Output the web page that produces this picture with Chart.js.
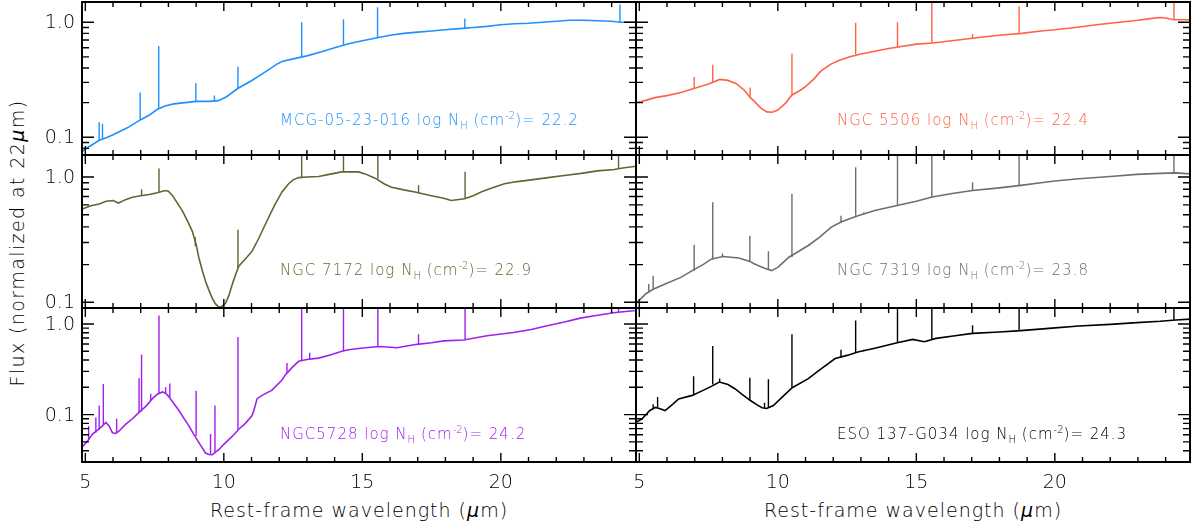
<!DOCTYPE html>
<html>
<head>
<meta charset="utf-8">
<script src="https://cdn.jsdelivr.net/npm/chart.js@4.4.0/dist/chart.umd.min.js"></script>
<style>
  body { margin: 0; background: #fff; }
  #wrap { position: relative; width: 1198px; height: 528px; overflow: hidden; font-family: "DejaVu Sans", sans-serif; font-weight: 200; }
  #wrap canvas { position: absolute; left: 0; top: 0; }
  .lab { position: absolute; font-size: 15px; letter-spacing: 1px; white-space: nowrap; line-height: 18px; }
  .lab sub { font-size: 10px; vertical-align: -4px; letter-spacing: 0; }
  .lab sup { font-size: 10px; vertical-align: 6px; letter-spacing: 0; }
  .xt { position: absolute; top: 499px; width: 554px; text-align: center; font-size: 19px; letter-spacing: 1px; line-height: 22px; }
  .yt { position: absolute; left: 17px; top: 243px; font-size: 19px; letter-spacing: 1.4px; white-space: nowrap; transform: translate(-50%, -50%) rotate(-90deg); }
</style>
</head>
<body>
<div id="wrap">
  <div class="xt" style="left:82px">Rest-frame wavelength (<i>μ</i>m)</div>
  <div class="xt" style="left:636px">Rest-frame wavelength (<i>μ</i>m)</div>
  <div class="yt">Flux (normalized at 22<i>μ</i>m)</div>
</div>
<script>
// panel order: top-left, top-right, mid-left, mid-right, bottom-left, bottom-right
const galaxyNames = ["MCG-05-23-016", "NGC 5506", "NGC 7172", "NGC 7319", "NGC5728", "ESO 137-G034"];
const logNH = [22.2, 22.4, 22.9, 23.8, 24.2, 24.3];

const xMin = 4.88, xMax = 24.88;
const xTickValues = [5, 6, 7, 8, 9, 10, 11, 12, 13, 14, 15, 16, 17, 18, 19, 20, 21, 22, 23, 24];
const xLabelValues = [5, 10, 15, 20];
const yTickValues = [0.03, 0.04, 0.05, 0.06, 0.07, 0.08, 0.09, 0.1, 0.2, 0.3, 0.4, 0.5, 0.6, 0.7, 0.8, 0.9, 1];
const yLabelValues = [0.1, 1];
const yLabelText = ["0.1", "1.0"];
const rowRanges = [[0.07, 1.5], [0.09, 1.5], [0.03, 1.5]];

// continuum [wavelength, flux]
const mcgSpec = [[4.89,0.075],[5.0,0.079],[5.25,0.086],[5.5,0.094],[5.8,0.1],[6.0,0.105],[6.5,0.12],[7.0,0.142],[7.3,0.155],[7.6,0.175],[7.9,0.188],[8.2,0.195],[8.6,0.2],[9.0,0.205],[9.5,0.205],[9.8,0.208],[10.1,0.225],[10.5,0.265],[11.0,0.31],[11.5,0.37],[11.9,0.43],[12.1,0.455],[12.5,0.48],[13.0,0.51],[13.5,0.55],[14.0,0.6],[14.5,0.65],[15.0,0.69],[15.5,0.73],[16.0,0.77],[16.5,0.8],[17.0,0.82],[17.5,0.84],[18.0,0.86],[18.5,0.88],[19.0,0.9],[19.5,0.92],[20.0,0.95],[20.5,0.97],[21.0,0.98],[21.5,1.0],[22.0,1.02],[22.5,1.04],[23.0,1.04],[23.5,1.03],[24.0,1.02],[24.3,1.0],[24.89,1.0]];
const ngc5506Spec = [[4.88,0.2],[5.1,0.205],[5.6,0.222],[6.0,0.23],[6.5,0.245],[7.0,0.267],[7.5,0.29],[7.9,0.318],[8.2,0.312],[8.5,0.292],[8.8,0.255],[9.0,0.222],[9.2,0.2],[9.4,0.178],[9.6,0.166],[9.8,0.165],[10.0,0.172],[10.3,0.2],[10.5,0.232],[10.8,0.255],[11.0,0.275],[11.3,0.32],[11.55,0.375],[11.9,0.43],[12.2,0.465],[12.6,0.5],[13.0,0.53],[13.5,0.56],[14.0,0.59],[14.35,0.61],[15.0,0.645],[15.6,0.66],[16.5,0.7],[17.4,0.745],[18.0,0.77],[18.8,0.8],[19.5,0.84],[20.0,0.86],[20.9,0.91],[21.5,0.95],[22.0,0.98],[22.5,1.01],[23.0,1.04],[23.5,1.08],[23.8,1.1],[24.0,1.09],[24.3,1.05],[24.88,1.05]];
const ngc7172Spec = [[4.89,0.556],[5.2,0.59],[5.5,0.61],[5.75,0.64],[6.0,0.65],[6.2,0.62],[6.45,0.66],[6.7,0.69],[7.0,0.71],[7.3,0.725],[7.6,0.75],[7.88,0.78],[8.0,0.77],[8.15,0.71],[8.3,0.63],[8.5,0.54],[8.7,0.44],[8.86,0.37],[9.0,0.29],[9.1,0.226],[9.22,0.18],[9.34,0.147],[9.46,0.125],[9.58,0.108],[9.7,0.097],[9.82,0.091],[9.94,0.093],[10.06,0.098],[10.18,0.113],[10.3,0.138],[10.42,0.165],[10.54,0.194],[10.8,0.225],[11.02,0.256],[11.25,0.32],[11.5,0.42],[11.7,0.52],[11.86,0.61],[12.1,0.76],[12.34,0.885],[12.5,0.95],[12.7,0.99],[13.0,1.0],[13.42,1.01],[13.8,1.05],[14.26,1.1],[14.86,1.1],[15.1,1.06],[15.46,0.98],[15.8,0.88],[16.05,0.83],[16.5,0.79],[16.9,0.76],[17.49,0.71],[17.9,0.68],[18.21,0.65],[18.69,0.67],[19.0,0.71],[19.29,0.76],[19.7,0.82],[20.13,0.885],[20.6,0.92],[21.09,0.95],[21.7,0.99],[22.29,1.03],[22.9,1.07],[23.49,1.12],[24.09,1.15],[24.4,1.18],[24.89,1.22]];
const ngc7319Spec = [[4.88,0.098],[5.24,0.117],[5.5,0.127],[5.93,0.14],[6.5,0.158],[6.91,0.179],[7.3,0.2],[7.61,0.222],[8.03,0.232],[8.59,0.226],[9.0,0.212],[9.14,0.203],[9.5,0.188],[9.77,0.179],[10.0,0.19],[10.4,0.229],[11.1,0.284],[11.5,0.33],[11.93,0.398],[12.3,0.44],[12.92,0.493],[13.5,0.54],[14.31,0.593],[15.0,0.64],[15.57,0.692],[16.3,0.74],[17.03,0.782],[18.0,0.82],[18.77,0.858],[19.5,0.9],[20.0,0.93],[20.87,0.97],[22.0,1.01],[22.96,1.05],[23.8,1.07],[24.37,1.08],[24.88,1.06]];
const ngc5728Spec = [[4.89,0.044],[5.1,0.052],[5.26,0.061],[5.45,0.068],[5.62,0.075],[5.74,0.082],[5.86,0.075],[5.98,0.063],[6.1,0.062],[6.22,0.066],[6.46,0.0785],[6.7,0.09],[6.94,0.106],[7.2,0.125],[7.42,0.15],[7.6,0.168],[7.78,0.178],[7.9,0.172],[8.02,0.157],[8.2,0.132],[8.38,0.111],[8.56,0.091],[8.74,0.075],[8.92,0.06],[9.1,0.049],[9.22,0.043],[9.34,0.0377],[9.46,0.0363],[9.58,0.0361],[9.7,0.0385],[9.82,0.041],[10.0,0.047],[10.18,0.053],[10.36,0.06],[10.54,0.069],[10.78,0.08],[11.02,0.0975],[11.1,0.115],[11.2,0.15],[11.38,0.163],[11.74,0.186],[12.1,0.241],[12.22,0.274],[12.46,0.33],[12.7,0.387],[13.0,0.405],[13.42,0.42],[13.9,0.46],[14.26,0.5],[14.5,0.52],[15.1,0.547],[15.65,0.565],[16.25,0.547],[16.97,0.596],[17.5,0.62],[17.94,0.65],[18.66,0.666],[19.5,0.74],[20.46,0.806],[21.1,0.87],[21.67,0.957],[22.3,1.05],[22.87,1.16],[23.5,1.25],[24.07,1.33],[24.5,1.37],[24.89,1.41]];
const eso137Spec = [[4.88,0.082],[5.1,0.09],[5.38,0.111],[5.58,0.12],[5.75,0.116],[5.93,0.111],[6.2,0.13],[6.42,0.149],[6.91,0.163],[7.3,0.185],[7.6,0.205],[7.89,0.229],[8.2,0.215],[8.45,0.193],[8.7,0.168],[9.01,0.143],[9.25,0.128],[9.43,0.119],[9.6,0.117],[9.84,0.126],[10.1,0.15],[10.52,0.198],[11.1,0.249],[11.5,0.31],[12.07,0.416],[12.5,0.45],[12.92,0.493],[13.5,0.54],[14.31,0.62],[14.87,0.676],[15.29,0.637],[15.71,0.693],[16.4,0.74],[17.03,0.787],[18.0,0.815],[18.77,0.844],[19.9,0.9],[20.87,0.95],[22.0,0.99],[22.96,1.035],[23.8,1.07],[24.37,1.107],[24.88,1.13]];

// emission lines [wavelength, base, peak]
const mcgLines = [[5.5,0.094,0.135],[5.62,0.097,0.13],[6.98,0.142,0.245],[7.65,0.18,0.62],[8.99,0.205,0.295],[9.66,0.207,0.23],[10.51,0.265,0.41],[12.81,0.5,1.0],[14.32,0.62,1.06],[15.55,0.73,1.35],[18.7,0.885,1.08],[24.3,1.0,1.43]];
const ngc5506Lines = [[6.98,0.265,0.334],[7.65,0.3,0.427],[9.0,0.222,0.27],[10.51,0.235,0.533],[12.81,0.525,0.99],[14.32,0.61,1.0],[15.56,0.66,1.6],[17.03,0.72,0.79],[18.71,0.795,1.38],[24.3,1.05,1.6]];
const ngc7172Lines = [[7.03,0.71,0.8],[7.66,0.76,1.17],[8.97,0.28,0.33],[10.51,0.188,0.38],[12.81,0.99,1.6],[14.32,1.1,1.6],[15.56,0.97,1.6],[17.03,0.74,0.86],[18.71,0.67,1.1],[24.25,1.16,1.6]];
const ngc7319Lines = [[5.34,0.12,0.14],[5.5,0.127,0.163],[6.98,0.178,0.288],[7.65,0.22,0.63],[8.0,0.232,0.245],[8.99,0.212,0.34],[9.66,0.182,0.256],[10.51,0.229,0.735],[12.28,0.43,0.49],[12.81,0.49,1.2],[13.1,0.5,0.52],[14.32,0.59,1.6],[15.56,0.69,1.6],[17.03,0.78,0.91],[18.71,0.855,1.6],[24.3,1.08,1.6]];
const ngc5728Lines = [[5.12,0.052,0.075],[5.38,0.063,0.093],[5.5,0.068,0.126],[5.65,0.077,0.217],[6.13,0.063,0.09],[6.94,0.105,0.252],[7.03,0.108,0.46],[7.36,0.145,0.17],[7.66,0.17,1.24],[7.9,0.172,0.2],[8.05,0.155,0.22],[9.0,0.058,0.183],[9.52,0.036,0.061],[9.68,0.038,0.126],[10.51,0.068,0.72],[12.28,0.29,0.37],[12.81,0.39,1.6],[13.1,0.41,0.48],[14.32,0.5,1.6],[15.56,0.565,1.6],[17.03,0.6,0.77],[18.71,0.67,1.6],[24.25,1.33,1.6]];
const eso137Lines = [[5.5,0.115,0.13],[5.66,0.12,0.156],[6.96,0.163,0.265],[7.65,0.215,0.57],[7.9,0.229,0.25],[8.99,0.145,0.255],[9.52,0.119,0.135],[9.66,0.118,0.245],[10.51,0.198,0.77],[12.28,0.42,0.52],[12.81,0.49,1.09],[13.1,0.5,0.52],[14.32,0.62,1.6],[15.56,0.68,1.6],[17.03,0.787,0.97],[18.71,0.84,1.6],[24.3,1.1,1.6]];

const spectra = [mcgSpec, ngc5506Spec, ngc7172Spec, ngc7319Spec, ngc5728Spec, eso137Spec];
const lineLists = [mcgLines, ngc5506Lines, ngc7172Lines, ngc7319Lines, ngc5728Lines, eso137Lines];
const colors = ["#1e90ff", "#ff6347", "#556b2f", "#6e6e6e", "#a020f0", "#000000"];

const W = 1198, H = 528;
const colBox = [[82, 636], [636, 1190]];
const rowBox = [[2, 155], [155, 308], [308, 462]];
const labelPos = [[280, 107], [837, 107], [280, 257], [837, 257], [280, 421], [837, 421]];

const frame = {
  id: "frame",
  afterDatasetsDraw(chart, args, opts) {
    const { ctx, chartArea: a } = chart;
    const sx = chart.scales.x, sy = chart.scales.y;
    ctx.save();
    ctx.strokeStyle = "#000";
    ctx.lineWidth = 1.4;
    ctx.beginPath();
    xTickValues.forEach((v) => {
      const px = sx.getPixelForValue(v);
      const len = xLabelValues.includes(v) ? 9 : 5;
      ctx.moveTo(px, a.bottom); ctx.lineTo(px, a.bottom - len);
      ctx.moveTo(px, a.top); ctx.lineTo(px, a.top + len);
    });
    yTickValues.forEach((v) => {
      if (v < sy.min || v > sy.max) return;
      const py = sy.getPixelForValue(v);
      const len = yLabelValues.includes(v) ? 12 : 7;
      ctx.moveTo(a.left, py); ctx.lineTo(a.left + len, py);
      ctx.moveTo(a.right, py); ctx.lineTo(a.right - len, py);
    });
    ctx.stroke();
    ctx.lineWidth = 2;
    ctx.strokeRect(a.left, a.top, a.right - a.left, a.bottom - a.top);

    ctx.fillStyle = "#000";
    ctx.font = '200 19px "DejaVu Sans"';
    if (opts.yLabels) {
      ctx.textAlign = "right";
      ctx.textBaseline = "middle";
      yLabelValues.forEach((v, i) => ctx.fillText(yLabelText[i], a.left - 7, sy.getPixelForValue(v) + 1));
    }
    if (opts.xLabels) {
      ctx.textAlign = "center";
      ctx.textBaseline = "top";
      xLabelValues.forEach((v) => ctx.fillText(String(v), sx.getPixelForValue(v), a.bottom + 12));
    }
    ctx.restore();
  },
};

const wrap = document.getElementById("wrap");

spectra.forEach((spec, i) => {
  const col = i % 2, row = Math.floor(i / 2);
  const canvas = document.createElement("canvas");
  canvas.width = W;
  canvas.height = H;
  wrap.appendChild(canvas);

  const lineSegs = [];
  lineLists[i].forEach((l) => {
    lineSegs.push({ x: l[0], y: l[1] }, { x: l[0], y: l[2] }, { x: l[0], y: null });
  });

  new Chart(canvas.getContext("2d"), {
    type: "line",
    data: {
      datasets: [
        { data: spec.map((p) => ({ x: p[0], y: p[1] })), borderColor: colors[i], borderWidth: 1.6, pointRadius: 0, tension: 0 },
        { data: lineSegs, borderColor: colors[i], borderWidth: 1.4, pointRadius: 0, spanGaps: false },
      ],
    },
    options: {
      responsive: false,
      animation: false,
      events: [],
      layout: {
        padding: { left: colBox[col][0], right: W - colBox[col][1], top: rowBox[row][0], bottom: H - rowBox[row][1] },
      },
      plugins: {
        legend: { display: false },
        tooltip: { enabled: false },
        frame: { yLabels: col === 0, xLabels: row === 2 },
      },
      scales: {
        x: { type: "linear", min: xMin, max: xMax, display: false },
        y: { type: "logarithmic", min: rowRanges[row][0], max: rowRanges[row][1], display: false },
      },
    },
    plugins: [frame],
  });

  const lab = document.createElement("div");
  lab.className = "lab";
  lab.style.left = labelPos[i][0] + "px";
  lab.style.top = labelPos[i][1] + "px";
  lab.style.color = colors[i];
  lab.innerHTML = galaxyNames[i] + " log N<sub>H</sub> (cm<sup>-2</sup>)= " + logNH[i].toFixed(1);
  wrap.appendChild(lab);
});
</script>
</body>
</html>
